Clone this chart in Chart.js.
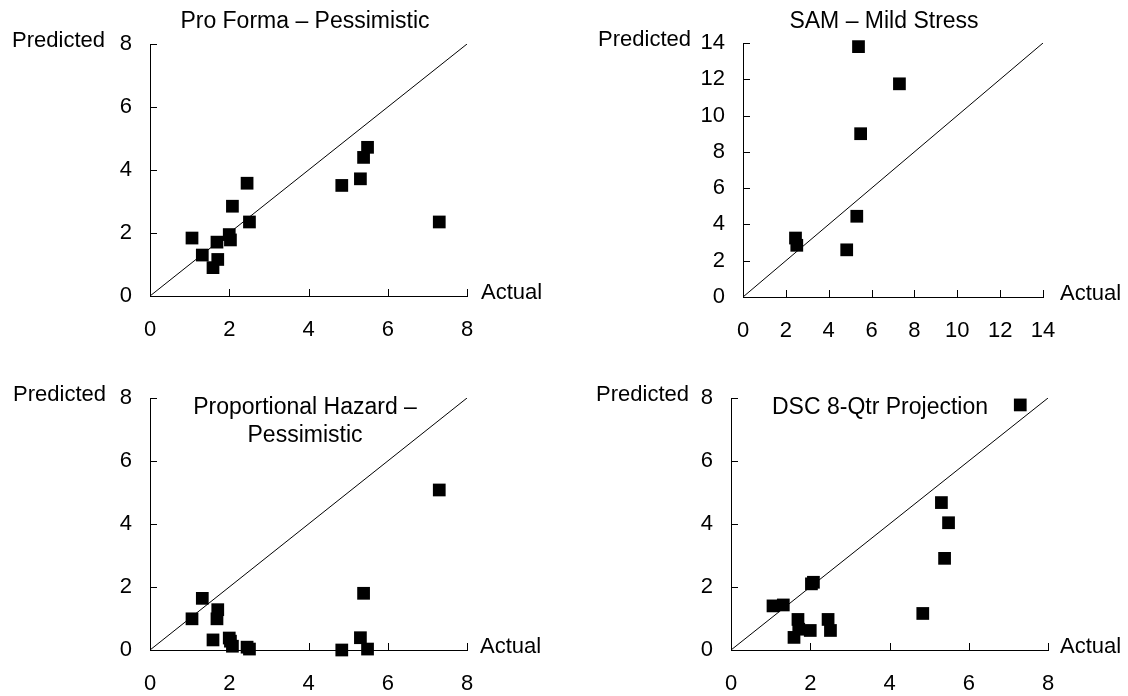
<!DOCTYPE html>
<html>
<head>
<meta charset="utf-8">
<script src="https://cdn.jsdelivr.net/npm/chart.js@4"></script>
<style>
body { margin: 0; background: #fff; }
#wrap { position: relative; width: 1128px; height: 696px; }
.panel { position: absolute; width: 564px; height: 348px; }
</style>
</head>
<body>
<div id="wrap">
  <div class="panel" style="left:0;top:0"><canvas id="c1"></canvas></div>
  <div class="panel" style="left:564px;top:0"><canvas id="c2"></canvas></div>
  <div class="panel" style="left:0;top:348px"><canvas id="c3"></canvas></div>
  <div class="panel" style="left:564px;top:348px"><canvas id="c4"></canvas></div>
</div>
<script>
// actual values (shared by three of the panels)
var actual = [1.06, 1.32, 1.59, 1.69, 1.71, 2.00, 2.03, 2.08, 2.45, 2.51, 4.84, 5.31, 5.39, 5.49, 7.30];
var proFormaPessimistic = [1.84, 1.30, 0.90, 1.71, 1.16, 1.95, 1.78, 2.85, 3.58, 2.35, 3.51, 3.72, 4.40, 4.72, 2.35];
var propHazardPessimistic = [0.99, 1.64, 0.32, 0.99, 1.28, 0.38, 0.28, 0.12, 0.09, 0.03, 0.00, 0.39, 1.80, 0.03, 5.08];
var dscProjection = [1.40, 1.43, 0.40, 0.97, 0.66, 0.62, 2.10, 2.15, 0.97, 0.62, 1.16, 4.68, 2.91, 4.04, 7.78];

// SAM only has the bigger ones
var samActual = [2.45, 2.51, 4.84, 5.31, 5.39, 5.49, 7.30];
var samMildStress = [3.25, 2.85, 2.60, 4.45, 13.80, 9.00, 11.75];

var ticksEight = [0, 2, 4, 6, 8];
var ticksFourteen = [0, 2, 4, 6, 8, 10, 12, 14];

Chart.defaults.font.family = '"Liberation Sans", Arial, sans-serif';
Chart.defaults.font.size = 22;
Chart.defaults.color = '#000';

function toPoints(xs, ys) {
  return xs.map(function (x, i) { return { x: x, y: ys[i] }; });
}

// inward tick marks + axis captions + title
var decorations = {
  id: 'decorations',
  afterDraw: function (chart) {
    var o = chart.options.plugins.decorations;
    var ctx = chart.ctx, a = chart.chartArea;
    var xs = chart.scales.x, ys = chart.scales.y;
    ctx.save();
    ctx.strokeStyle = '#000';
    ctx.lineWidth = 1;
    ctx.beginPath();
    xs.ticks.forEach(function (t) {
      var px = Math.round(xs.getPixelForValue(t.value)) + 0.5;
      ctx.moveTo(px, a.bottom);
      ctx.lineTo(px, a.bottom - 7);
    });
    ys.ticks.forEach(function (t) {
      var py = Math.round(ys.getPixelForValue(t.value)) + 0.5;
      ctx.moveTo(a.left, py);
      ctx.lineTo(a.left + 7, py);
    });
    ctx.stroke();
    ctx.fillStyle = '#000';
    ctx.font = '22px "Liberation Sans", Arial, sans-serif';
    ctx.textBaseline = 'middle';
    ctx.textAlign = 'right';
    ctx.fillText('Predicted', a.left - o.yGap, a.top - 3.5);
    ctx.textAlign = 'left';
    ctx.fillText('Actual', a.right + o.xGap, a.bottom - 3.5);
    ctx.font = '23px "Liberation Sans", Arial, sans-serif';
    ctx.textAlign = 'center';
    o.title.forEach(function (line, i) {
      ctx.fillText(line, o.titleX, o.titleY + i * 28);
    });
    ctx.restore();
  }
};

function makeChart(id, xs, ys, tickVals, pad, deco) {
  var top = tickVals[tickVals.length - 1];
  return new Chart(document.getElementById(id), {
    type: 'scatter',
    data: {
      datasets: [
        {
          data: toPoints(xs, ys),
          pointStyle: 'rect',
          pointRadius: 9,
          pointHoverRadius: 9,
          backgroundColor: '#000',
          borderWidth: 0,
          clip: false,
          order: 0
        },
        {
          type: 'line',
          data: [{ x: 0, y: 0 }, { x: top, y: top }],
          borderColor: '#000',
          borderWidth: 1,
          pointRadius: 0,
          fill: false,
          order: 1
        }
      ]
    },
    options: {
      responsive: true,
      maintainAspectRatio: false,
      animation: false,
      layout: { padding: pad },
      plugins: {
        legend: { display: false },
        tooltip: { enabled: false },
        decorations: deco
      },
      scales: {
        x: {
          type: 'linear',
          min: 0,
          max: top,
          grid: { display: false, drawTicks: false },
          border: { display: true, color: '#000', width: 1 },
          ticks: { padding: 21, autoSkip: false, maxRotation: 0 },
          afterBuildTicks: function (s) { s.ticks = tickVals.map(function (v) { return { value: v }; }); },
          afterFit: function (s) { s.height = 40; }
        },
        y: {
          type: 'linear',
          min: 0,
          max: top,
          grid: { display: false, drawTicks: false },
          border: { display: true, color: '#000', width: 1 },
          ticks: { padding: 18, autoSkip: false },
          afterBuildTicks: function (s) { s.ticks = tickVals.map(function (v) { return { value: v }; }); },
          afterFit: function (s) { s.width = 60; }
        }
      }
    },
    plugins: [decorations]
  });
}

makeChart('c1', actual, proFormaPessimistic, ticksEight,
  { left: 90, right: 97, top: 44, bottom: 12 },
  { title: ['Pro Forma \u2013 Pessimistic'], titleX: 305, titleY: 22, yGap: 45, xGap: 14 });

makeChart('c2', samActual, samMildStress, ticksFourteen,
  { left: 119, right: 85, top: 43, bottom: 11 },
  { title: ['SAM \u2013 Mild Stress'], titleX: 320, titleY: 22, yGap: 52, xGap: 17 });

makeChart('c3', actual, propHazardPessimistic, ticksEight,
  { left: 90, right: 97, top: 50, bottom: 6 },
  { title: ['Proportional Hazard \u2013', 'Pessimistic'], titleX: 305, titleY: 59.5, yGap: 44, xGap: 13 });

makeChart('c4', actual, dscProjection, ticksEight,
  { left: 107, right: 80, top: 50, bottom: 6 },
  { title: ['DSC 8-Qtr Projection'], titleX: 316, titleY: 59.5, yGap: 42, xGap: 12 });
</script>
</body>
</html>
